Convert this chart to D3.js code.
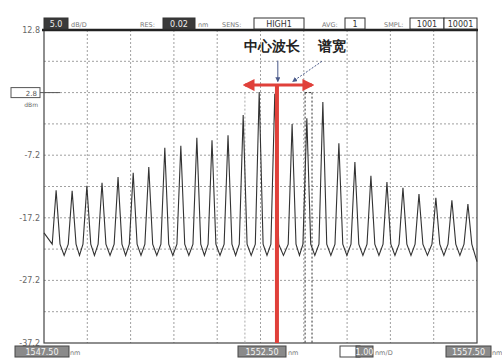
<!DOCTYPE html>
<html>
<head>
<meta charset="utf-8">
<script src="https://cdn.jsdelivr.net/npm/d3@7"></script>
<style>
  body { margin: 0; background: #fff; }
  text { font-family: "DejaVu Sans", sans-serif; }
</style>
</head>
<body>
<div id="chart"></div>
<script>
// Spectrum peaks (wavelength nm, level dBm)
const peakWl = [1547.78, 1548.15, 1548.49, 1548.84, 1549.21, 1549.56, 1549.92, 1550.29, 1550.66,
                1551.03, 1551.38, 1551.75, 1552.10, 1552.47, 1552.83, 1553.23, 1553.57, 1553.94,
                1554.31, 1554.68, 1555.05, 1555.42, 1555.79, 1556.16, 1556.55, 1556.92, 1557.29];
const peakDb = [-12.8, -12.9, -12.1, -11.6, -10.7, -10.0, -9.1, -6.0, -5.7,
                -4.4, -4.8, -4.0, -0.8, 2.9, 2.6, -2.2, -1.3, 1.3,
                -5.3, -8.3, -10.5, -11.5, -12.4, -13.4, -14.0, -14.4, -15.0];
const footDb = -21.4;
const troughDb = -23.2;
const edgeDb = [-19.6, -24.2];

// Axis labels
const yTicks = [12.8, 2.8, -7.2, -17.2, -27.2, -37.2];
const xLabels = ["1547.50", "1552.50", "1557.50"];
const spanLabel = "1.00";

// Markers
const centerWl = 1552.88;
const widthWl = [1552.14, 1553.69];
const markerLevel = 4.0;

const width = 502, height = 360;
const margin = { top: 30, right: 25, bottom: 17, left: 44 };

const svg = d3.select("#chart").append("svg")
    .attr("width", width)
    .attr("height", height);

const x = d3.scaleLinear()
    .domain([1547.5, 1557.5])
    .range([margin.left, width - margin.right]);

const y = d3.scaleLinear()
    .domain([-37.2, 12.8])
    .range([height - margin.bottom, margin.top]);

// Grid
const xGrid = d3.range(1548.5, 1557.5, 1);
const yGrid = d3.range(-32.2, 12.8, 5);

svg.append("g").selectAll("line").data(xGrid).join("line")
    .attr("x1", d => x(d)).attr("x2", d => x(d))
    .attr("y1", y(12.8)).attr("y2", y(-37.2))
    .attr("stroke", "#888").attr("stroke-dasharray", "2,2").attr("stroke-width", 0.8);

svg.append("g").selectAll("line").data(yGrid).join("line")
    .attr("x1", x(1547.5)).attr("x2", x(1557.5))
    .attr("y1", d => y(d)).attr("y2", d => y(d))
    .attr("stroke", "#888").attr("stroke-dasharray", "2,2").attr("stroke-width", 0.8);

// Frame
svg.append("rect")
    .attr("x", x(1547.5)).attr("y", y(12.8))
    .attr("width", x(1557.5) - x(1547.5)).attr("height", y(-37.2) - y(12.8))
    .attr("fill", "none").attr("stroke", "#444").attr("stroke-width", 1.2);
svg.append("line")
    .attr("x1", x(1547.5) - 2).attr("x2", x(1557.5) + 1)
    .attr("y1", y(12.8)).attr("y2", y(12.8))
    .attr("stroke", "#222").attr("stroke-width", 2.5);

// Width marker dashed lines
svg.append("g").selectAll("line").data([widthWl[0], 1553.53, widthWl[1]]).join("line")
    .attr("x1", d => x(d)).attr("x2", d => x(d))
    .attr("y1", y(2.8)).attr("y2", y(-37.2))
    .attr("stroke", (d, i) => i === 0 ? "#aaa" : "#333")
    .attr("stroke-dasharray", "2,2").attr("stroke-width", 1);
svg.append("line")
    .attr("x1", x(1553.53)).attr("x2", x(widthWl[1]))
    .attr("y1", y(2.8)).attr("y2", y(2.8))
    .attr("stroke", "#333").attr("stroke-dasharray", "2,2");

// Trace points: edge, then trough / foot / peak / foot per line
const pts = [[1547.5, edgeDb[0]]];
peakWl.forEach((w, i) => {
    const prev = i === 0 ? 1547.5 : peakWl[i - 1];
    if (i > 0) pts.push([(prev + w) / 2, troughDb]);
    pts.push([w - 0.09, footDb]);
    pts.push([w, peakDb[i]]);
    pts.push([w + 0.09, footDb]);
});
pts.push([1557.5, edgeDb[1]]);

const line = d3.line()
    .x(d => x(d[0]))
    .y(d => y(d[1]));

svg.append("path")
    .datum(pts)
    .attr("fill", "none")
    .attr("stroke", "#333")
    .attr("stroke-width", 1.1)
    .attr("d", line);

// Red center wavelength / width markers
const red = "#e0403a";
const defs = svg.append("defs");
defs.append("marker").attr("id", "redArrow")
    .attr("viewBox", "0 0 10 10").attr("refX", 8).attr("refY", 5)
    .attr("markerWidth", 4).attr("markerHeight", 4).attr("orient", "auto-start-reverse")
    .append("path").attr("d", "M0,0L10,5L0,10z").attr("fill", red);
defs.append("marker").attr("id", "blueArrow")
    .attr("viewBox", "0 0 10 10").attr("refX", 8).attr("refY", 5)
    .attr("markerWidth", 5).attr("markerHeight", 5).attr("orient", "auto")
    .append("path").attr("d", "M0,0L10,5L0,10z").attr("fill", "#4a5a8a");

svg.append("line")
    .attr("x1", x(centerWl)).attr("x2", x(centerWl))
    .attr("y1", y(markerLevel)).attr("y2", y(-37.2))
    .attr("stroke", red).attr("stroke-width", 4);
svg.append("line")
    .attr("x1", x(widthWl[0])).attr("x2", x(widthWl[1]))
    .attr("y1", y(markerLevel)).attr("y2", y(markerLevel))
    .attr("stroke", red).attr("stroke-width", 3)
    .attr("marker-start", "url(#redArrow)")
    .attr("marker-end", "url(#redArrow)");

// Annotation
svg.append("text")
    .attr("x", x(1552.12)).attr("y", 51)
    .attr("font-family", "Noto Sans CJK SC").attr("font-weight", "bold")
    .attr("font-size", 13.5).attr("fill", "#222")
    .text("中心波长");
svg.append("text")
    .attr("x", x(1553.83)).attr("y", 51)
    .attr("font-family", "Noto Sans CJK SC").attr("font-weight", "bold")
    .attr("font-size", 13.5).attr("fill", "#222")
    .text("谱宽");

svg.append("line")
    .attr("x1", x(1552.90)).attr("x2", x(1552.90))
    .attr("y1", y(7.9)).attr("y2", y(4.6))
    .attr("stroke", "#4a5a8a").attr("stroke-width", 1)
    .attr("marker-end", "url(#blueArrow)");
svg.append("line")
    .attr("x1", x(1553.92)).attr("x2", x(1553.25))
    .attr("y1", y(7.8)).attr("y2", y(4.6))
    .attr("stroke", "#4a5a8a").attr("stroke-width", 1)
    .attr("stroke-dasharray", "2,1.5")
    .attr("marker-end", "url(#blueArrow)");

// Y labels
svg.append("g").selectAll("text").data(yTicks).join("text")
    .attr("x", 40).attr("y", d => y(d) + 3)
    .attr("text-anchor", "end")
    .attr("font-size", 8).attr("fill", "#666")
    .attr("opacity", (d, i) => i === 1 ? 0 : 1)
    .text(d => d.toFixed(1));

// Reference level box
svg.append("rect").attr("x", 11).attr("y", y(2.8) - 5).attr("width", 29).attr("height", 10)
    .attr("fill", "#fff").attr("stroke", "#555");
svg.append("text").attr("x", 37).attr("y", y(2.8) + 3).attr("text-anchor", "end")
    .attr("font-size", 7).attr("fill", "#555").text(yTicks[1].toFixed(1));
svg.append("line").attr("x1", 40).attr("x2", 60).attr("y1", y(2.8)).attr("y2", y(2.8))
    .attr("stroke", "#555");
svg.append("text").attr("x", 38).attr("y", y(2.8) + 14).attr("text-anchor", "end")
    .attr("font-size", 6).attr("fill", "#666").text("dBm");

// Header row
function box(xp, yp, w, txt, dark) {
    svg.append("rect").attr("x", xp).attr("y", yp).attr("width", w).attr("height", 11)
        .attr("fill", dark ? "#3a3a3a" : "#fff").attr("stroke", "#333");
    svg.append("text").attr("x", xp + w / 2).attr("y", yp + 8.5).attr("text-anchor", "middle")
        .attr("font-size", 8).attr("fill", dark ? "#eee" : "#333").text(txt);
}
function small(xp, yp, txt) {
    svg.append("text").attr("x", xp).attr("y", yp).attr("font-size", 6.5)
        .attr("fill", "#777").text(txt);
}
box(44, 18, 24, "5.0", true); small(71, 27, "dB/D");
small(140, 27, "RES:"); box(163, 18, 32, "0.02", true); small(198, 27, "nm");
small(222, 27, "SENS:"); box(254, 18, 50, "HIGH1", false);
small(322, 27, "AVG:"); box(345, 18, 20, "1", false);
small(384, 27, "SMPL:"); box(410, 18, 34, "1001", false); box(444, 18, 33, "10001", false);

// Bottom row
const bottomY = 346;
function gbox(xp, w, txt) {
    svg.append("rect").attr("x", xp).attr("y", bottomY).attr("width", w).attr("height", 11)
        .attr("fill", "#8a8a8a").attr("stroke", "#444");
    svg.append("text").attr("x", xp + w / 2).attr("y", bottomY + 8.5).attr("text-anchor", "middle")
        .attr("font-size", 8).attr("fill", "#f4f4f4").text(txt);
}
gbox(15, 54, xLabels[0]); small(70, bottomY + 9, "nm");
gbox(238, 48, xLabels[1]); small(288, bottomY + 9, "nm");
svg.append("rect").attr("x", 340).attr("y", bottomY).attr("width", 20).attr("height", 11)
    .attr("fill", "#fff").attr("stroke", "#444");
gbox(356, 17, spanLabel); small(375, bottomY + 9, "nm/D");
gbox(446, 45, xLabels[2]); small(492, bottomY + 9, "nm");
</script>
</body>
</html>
